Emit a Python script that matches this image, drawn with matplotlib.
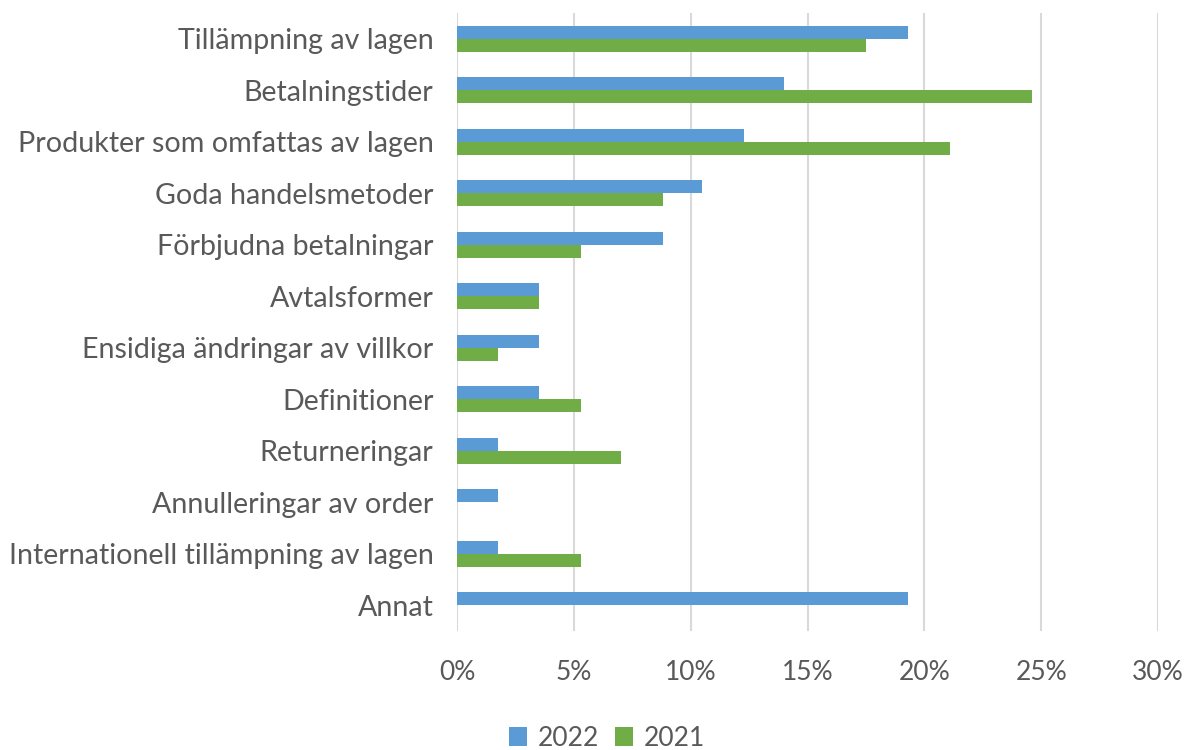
import matplotlib
matplotlib.use("Agg")
import matplotlib.pyplot as plt
import numpy as np
from matplotlib.ticker import FuncFormatter, MultipleLocator

categories = [
    "Tillämpning av lagen",
    "Betalningstider",
    "Produkter som omfattas av lagen",
    "Goda handelsmetoder",
    "Förbjudna betalningar",
    "Avtalsformer",
    "Ensidiga ändringar av villkor",
    "Definitioner",
    "Returneringar",
    "Annulleringar av order",
    "Internationell tillämpning av lagen",
    "Annat",
]
values_2022 = [19.3, 14.0, 12.3, 10.5, 8.8, 3.5, 3.5, 3.5, 1.75, 1.75, 1.75, 19.3]
values_2021 = [17.5, 24.6, 21.1, 8.8, 5.3, 3.5, 1.75, 5.3, 7.0, 0.0, 5.3, 0.0]
series_labels = ["2022", "2021"]
colors = ["#5B9BD5", "#70AD47"]

plt.rcParams['font.family'] = ['Lato', 'DejaVu Sans']
text_color = "#595959"

fig = plt.figure(figsize=(11.88, 7.5), dpi=100)
ax = fig.add_axes([457/1188, 1-631/750, (1158-457)/1188, (631-13)/750])

y = np.arange(len(categories))
h = 0.25
ax.barh(y - h/2, values_2022, height=h, color=colors[0], label=series_labels[0])
ax.barh(y + h/2, values_2021, height=h, color=colors[1], label=series_labels[1])

ax.set_xlim(0, 30)
ax.set_ylim(len(categories) - 0.5, -0.5)
ax.xaxis.set_major_locator(MultipleLocator(5))
ax.xaxis.set_major_formatter(FuncFormatter(lambda v, p: f"{v:.0f}%"))
ax.set_yticks(y)
ax.set_yticklabels(categories)
ax.grid(axis='x', color="#D9D9D9", linewidth=1.5)
ax.set_axisbelow(True)
for s in ax.spines.values():
    s.set_visible(False)
ax.tick_params(axis='both', length=0, labelcolor=text_color)
ax.tick_params(axis='x', pad=21, labelsize=19)
ax.tick_params(axis='y', pad=17, labelsize=20.6)

leg = fig.legend(loc='center', bbox_to_anchor=(607/1188, 1-738/750), ncol=2, frameon=False,
                 fontsize=19, handlelength=0.7, handleheight=0.7, handletextpad=0.4,
                 columnspacing=0.6, labelcolor=text_color)

fig.savefig("out.png", dpi=100)
